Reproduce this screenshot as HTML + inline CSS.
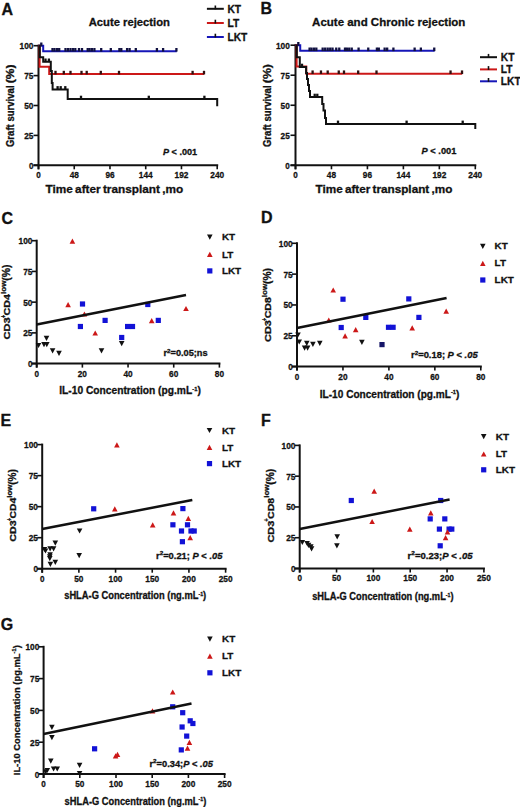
<!DOCTYPE html>
<html><head><meta charset="utf-8"><style>
html,body{margin:0;padding:0;background:#fff;}
svg{display:block;}
text{font-family:"Liberation Sans", sans-serif;fill:#111;stroke:#111;stroke-width:0.3px;}
</style></head><body>
<svg width="520" height="807" viewBox="0 0 520 807">
<rect width="520" height="807" fill="#fff"/>
<text x="1.60" y="15.20" font-size="16" font-weight="bold" >A</text>
<text x="260.60" y="14.40" font-size="16" font-weight="bold" >B</text>
<text x="1.40" y="223.60" font-size="16" font-weight="bold" >C</text>
<text x="260.90" y="222.80" font-size="16" font-weight="bold" >D</text>
<text x="0.50" y="425.50" font-size="16" font-weight="bold" >E</text>
<text x="260.90" y="426.30" font-size="16" font-weight="bold" >F</text>
<text x="0.80" y="629.80" font-size="16" font-weight="bold" >G</text>
<text x="88.70" y="25.80" font-size="11.5" font-weight="bold" textLength="81.30" lengthAdjust="spacingAndGlyphs" >Acute rejection</text>
<line x1="38.50" y1="44.70" x2="38.50" y2="169.30" stroke="#111" stroke-width="2.0" stroke-linecap="butt"/>
<line x1="33.50" y1="165.30" x2="218.20" y2="165.30" stroke="#111" stroke-width="2.0" stroke-linecap="butt"/>
<line x1="33.50" y1="165.30" x2="38.50" y2="165.30" stroke="#111" stroke-width="1.6" stroke-linecap="butt"/>
<text x="33.40" y="168.83" font-size="9.8" font-weight="bold" text-anchor="end" textLength="4.50" lengthAdjust="spacingAndGlyphs" >0</text>
<line x1="33.50" y1="135.40" x2="38.50" y2="135.40" stroke="#111" stroke-width="1.6" stroke-linecap="butt"/>
<text x="33.40" y="138.93" font-size="9.8" font-weight="bold" text-anchor="end" textLength="9.20" lengthAdjust="spacingAndGlyphs" >25</text>
<line x1="33.50" y1="105.50" x2="38.50" y2="105.50" stroke="#111" stroke-width="1.6" stroke-linecap="butt"/>
<text x="33.40" y="109.03" font-size="9.8" font-weight="bold" text-anchor="end" textLength="9.20" lengthAdjust="spacingAndGlyphs" >50</text>
<line x1="33.50" y1="75.60" x2="38.50" y2="75.60" stroke="#111" stroke-width="1.6" stroke-linecap="butt"/>
<text x="33.40" y="79.13" font-size="9.8" font-weight="bold" text-anchor="end" textLength="9.20" lengthAdjust="spacingAndGlyphs" >75</text>
<line x1="33.50" y1="45.70" x2="38.50" y2="45.70" stroke="#111" stroke-width="1.6" stroke-linecap="butt"/>
<text x="33.40" y="49.23" font-size="9.8" font-weight="bold" text-anchor="end" textLength="13.90" lengthAdjust="spacingAndGlyphs" >100</text>
<line x1="38.50" y1="165.30" x2="38.50" y2="169.30" stroke="#111" stroke-width="1.6" stroke-linecap="butt"/>
<text x="38.50" y="178.20" font-size="9.8" font-weight="bold" text-anchor="middle" textLength="4.50" lengthAdjust="spacingAndGlyphs" >0</text>
<line x1="74.24" y1="165.30" x2="74.24" y2="169.30" stroke="#111" stroke-width="1.6" stroke-linecap="butt"/>
<text x="74.24" y="178.20" font-size="9.8" font-weight="bold" text-anchor="middle" textLength="9.20" lengthAdjust="spacingAndGlyphs" >48</text>
<line x1="109.98" y1="165.30" x2="109.98" y2="169.30" stroke="#111" stroke-width="1.6" stroke-linecap="butt"/>
<text x="109.98" y="178.20" font-size="9.8" font-weight="bold" text-anchor="middle" textLength="9.20" lengthAdjust="spacingAndGlyphs" >96</text>
<line x1="145.72" y1="165.30" x2="145.72" y2="169.30" stroke="#111" stroke-width="1.6" stroke-linecap="butt"/>
<text x="145.72" y="178.20" font-size="9.8" font-weight="bold" text-anchor="middle" textLength="13.90" lengthAdjust="spacingAndGlyphs" >144</text>
<line x1="181.46" y1="165.30" x2="181.46" y2="169.30" stroke="#111" stroke-width="1.6" stroke-linecap="butt"/>
<text x="181.46" y="178.20" font-size="9.8" font-weight="bold" text-anchor="middle" textLength="13.90" lengthAdjust="spacingAndGlyphs" >192</text>
<line x1="217.20" y1="165.30" x2="217.20" y2="169.30" stroke="#111" stroke-width="1.6" stroke-linecap="butt"/>
<text x="217.20" y="178.20" font-size="9.8" font-weight="bold" text-anchor="middle" textLength="13.90" lengthAdjust="spacingAndGlyphs" >240</text>
<text x="14.40" y="147.10" font-size="10.6" font-weight="bold" transform="rotate(-90 14.40 147.10)" textLength="61.70" lengthAdjust="spacingAndGlyphs" >Graft survival</text>
<text x="14.40" y="83.20" font-size="10.6" font-weight="bold" transform="rotate(-90 14.40 83.20)" textLength="18.70" lengthAdjust="spacingAndGlyphs" >(%)</text>
<text x="45.60" y="192.80" font-size="11.2" font-weight="bold" textLength="137.50" lengthAdjust="spacingAndGlyphs" word-spacing="-1">Time after transplant ,mo</text>
<text x="163.00" y="155.10" font-size="9.4" font-weight="bold" textLength="34.20" lengthAdjust="spacingAndGlyphs"><tspan font-style="italic">P</tspan> &lt; .001</text>
<path d="M38.50,45.80 H43.20 V51.30 H176.80" fill="none" stroke="#1616b8" stroke-width="2" stroke-linejoin="miter" stroke-linecap="butt"/>
<path d="M38.50,45.80 H39.60 V66.80 H49.20 V74.10 H204.20" fill="none" stroke="#cc1818" stroke-width="2" stroke-linejoin="miter" stroke-linecap="butt"/>
<path d="M38.5,45.8 H39.8 V57.2 H43.2 V61.8 H50.8 V71 H51.8 V83 H52.6 V89.4 H67.7 V99 H217.2 V106.2" fill="none" stroke="#111" stroke-width="2" stroke-linejoin="miter" stroke-linecap="butt"/>
<line x1="52.50" y1="48.00" x2="52.50" y2="51.60" stroke="#101040" stroke-width="2.3" stroke-linecap="butt"/>
<line x1="54.50" y1="48.00" x2="54.50" y2="51.60" stroke="#101040" stroke-width="2.3" stroke-linecap="butt"/>
<line x1="57.00" y1="48.00" x2="57.00" y2="51.60" stroke="#101040" stroke-width="2.3" stroke-linecap="butt"/>
<line x1="59.20" y1="48.00" x2="59.20" y2="51.60" stroke="#101040" stroke-width="2.3" stroke-linecap="butt"/>
<line x1="65.50" y1="48.00" x2="65.50" y2="51.60" stroke="#101040" stroke-width="2.3" stroke-linecap="butt"/>
<line x1="68.00" y1="48.00" x2="68.00" y2="51.60" stroke="#101040" stroke-width="2.3" stroke-linecap="butt"/>
<line x1="70.50" y1="48.00" x2="70.50" y2="51.60" stroke="#101040" stroke-width="2.3" stroke-linecap="butt"/>
<line x1="73.00" y1="48.00" x2="73.00" y2="51.60" stroke="#101040" stroke-width="2.3" stroke-linecap="butt"/>
<line x1="75.30" y1="48.00" x2="75.30" y2="51.60" stroke="#101040" stroke-width="2.3" stroke-linecap="butt"/>
<line x1="79.00" y1="48.00" x2="79.00" y2="51.60" stroke="#101040" stroke-width="2.3" stroke-linecap="butt"/>
<line x1="82.00" y1="48.00" x2="82.00" y2="51.60" stroke="#101040" stroke-width="2.3" stroke-linecap="butt"/>
<line x1="87.70" y1="48.00" x2="87.70" y2="51.60" stroke="#101040" stroke-width="2.3" stroke-linecap="butt"/>
<line x1="89.60" y1="48.00" x2="89.60" y2="51.60" stroke="#101040" stroke-width="2.3" stroke-linecap="butt"/>
<line x1="91.90" y1="48.00" x2="91.90" y2="51.60" stroke="#101040" stroke-width="2.3" stroke-linecap="butt"/>
<line x1="94.40" y1="48.00" x2="94.40" y2="51.60" stroke="#101040" stroke-width="2.3" stroke-linecap="butt"/>
<line x1="101.20" y1="48.00" x2="101.20" y2="51.60" stroke="#101040" stroke-width="2.3" stroke-linecap="butt"/>
<line x1="110.80" y1="48.00" x2="110.80" y2="51.60" stroke="#101040" stroke-width="2.3" stroke-linecap="butt"/>
<line x1="119.40" y1="48.00" x2="119.40" y2="51.60" stroke="#101040" stroke-width="2.3" stroke-linecap="butt"/>
<line x1="121.30" y1="48.00" x2="121.30" y2="51.60" stroke="#101040" stroke-width="2.3" stroke-linecap="butt"/>
<line x1="127.10" y1="48.00" x2="127.10" y2="51.60" stroke="#101040" stroke-width="2.3" stroke-linecap="butt"/>
<line x1="129.60" y1="48.00" x2="129.60" y2="51.60" stroke="#101040" stroke-width="2.3" stroke-linecap="butt"/>
<line x1="135.80" y1="48.00" x2="135.80" y2="51.60" stroke="#101040" stroke-width="2.3" stroke-linecap="butt"/>
<line x1="156.90" y1="48.00" x2="156.90" y2="51.60" stroke="#101040" stroke-width="2.3" stroke-linecap="butt"/>
<line x1="163.10" y1="48.00" x2="163.10" y2="51.60" stroke="#101040" stroke-width="2.3" stroke-linecap="butt"/>
<line x1="176.40" y1="48.00" x2="176.40" y2="51.60" stroke="#101040" stroke-width="2.3" stroke-linecap="butt"/>
<line x1="41.30" y1="42.50" x2="41.30" y2="46.10" stroke="#101040" stroke-width="2.3" stroke-linecap="butt"/>
<line x1="55.50" y1="70.80" x2="55.50" y2="74.40" stroke="#301010" stroke-width="2.3" stroke-linecap="butt"/>
<line x1="63.80" y1="70.80" x2="63.80" y2="74.40" stroke="#301010" stroke-width="2.3" stroke-linecap="butt"/>
<line x1="70.50" y1="70.80" x2="70.50" y2="74.40" stroke="#301010" stroke-width="2.3" stroke-linecap="butt"/>
<line x1="81.50" y1="70.80" x2="81.50" y2="74.40" stroke="#301010" stroke-width="2.3" stroke-linecap="butt"/>
<line x1="86.70" y1="70.80" x2="86.70" y2="74.40" stroke="#301010" stroke-width="2.3" stroke-linecap="butt"/>
<line x1="100.80" y1="70.80" x2="100.80" y2="74.40" stroke="#301010" stroke-width="2.3" stroke-linecap="butt"/>
<line x1="119.00" y1="70.80" x2="119.00" y2="74.40" stroke="#301010" stroke-width="2.3" stroke-linecap="butt"/>
<line x1="192.60" y1="70.80" x2="192.60" y2="74.40" stroke="#301010" stroke-width="2.3" stroke-linecap="butt"/>
<line x1="204.00" y1="70.80" x2="204.00" y2="74.40" stroke="#301010" stroke-width="2.3" stroke-linecap="butt"/>
<line x1="45.50" y1="58.50" x2="45.50" y2="62.10" stroke="#111" stroke-width="2.3" stroke-linecap="butt"/>
<line x1="48.90" y1="58.50" x2="48.90" y2="62.10" stroke="#111" stroke-width="2.3" stroke-linecap="butt"/>
<line x1="57.60" y1="86.10" x2="57.60" y2="89.70" stroke="#111" stroke-width="2.3" stroke-linecap="butt"/>
<line x1="60.70" y1="86.10" x2="60.70" y2="89.70" stroke="#111" stroke-width="2.3" stroke-linecap="butt"/>
<line x1="65.30" y1="86.10" x2="65.30" y2="89.70" stroke="#111" stroke-width="2.3" stroke-linecap="butt"/>
<line x1="81.00" y1="95.70" x2="81.00" y2="99.30" stroke="#111" stroke-width="2.3" stroke-linecap="butt"/>
<line x1="148.80" y1="95.70" x2="148.80" y2="99.30" stroke="#111" stroke-width="2.3" stroke-linecap="butt"/>
<line x1="204.40" y1="95.70" x2="204.40" y2="99.30" stroke="#111" stroke-width="2.3" stroke-linecap="butt"/>
<line x1="206.90" y1="8.80" x2="223.80" y2="8.80" stroke="#111" stroke-width="2" stroke-linecap="butt"/>
<line x1="215.35" y1="5.50" x2="215.35" y2="9.30" stroke="#111" stroke-width="1.6" stroke-linecap="butt"/>
<text x="227.50" y="13.10" font-size="10.2" font-weight="bold" >KT</text>
<line x1="206.90" y1="23.00" x2="223.80" y2="23.00" stroke="#cc1818" stroke-width="2" stroke-linecap="butt"/>
<line x1="215.35" y1="19.70" x2="215.35" y2="23.50" stroke="#111" stroke-width="1.6" stroke-linecap="butt"/>
<text x="227.50" y="27.30" font-size="10.2" font-weight="bold" >LT</text>
<line x1="206.90" y1="37.00" x2="223.80" y2="37.00" stroke="#1616b8" stroke-width="2" stroke-linecap="butt"/>
<line x1="215.35" y1="33.70" x2="215.35" y2="37.50" stroke="#111" stroke-width="1.6" stroke-linecap="butt"/>
<text x="227.50" y="41.30" font-size="10.2" font-weight="bold" >LKT</text>
<text x="312.10" y="25.80" font-size="11.5" font-weight="bold" textLength="153.30" lengthAdjust="spacingAndGlyphs" >Acute and Chronic rejection</text>
<line x1="295.50" y1="44.20" x2="295.50" y2="169.30" stroke="#111" stroke-width="2.0" stroke-linecap="butt"/>
<line x1="290.50" y1="165.30" x2="476.30" y2="165.30" stroke="#111" stroke-width="2.0" stroke-linecap="butt"/>
<line x1="290.50" y1="165.30" x2="295.50" y2="165.30" stroke="#111" stroke-width="1.6" stroke-linecap="butt"/>
<text x="289.80" y="168.83" font-size="9.8" font-weight="bold" text-anchor="end" textLength="4.50" lengthAdjust="spacingAndGlyphs" >0</text>
<line x1="290.50" y1="135.27" x2="295.50" y2="135.27" stroke="#111" stroke-width="1.6" stroke-linecap="butt"/>
<text x="289.80" y="138.80" font-size="9.8" font-weight="bold" text-anchor="end" textLength="9.20" lengthAdjust="spacingAndGlyphs" >25</text>
<line x1="290.50" y1="105.25" x2="295.50" y2="105.25" stroke="#111" stroke-width="1.6" stroke-linecap="butt"/>
<text x="289.80" y="108.78" font-size="9.8" font-weight="bold" text-anchor="end" textLength="9.20" lengthAdjust="spacingAndGlyphs" >50</text>
<line x1="290.50" y1="75.22" x2="295.50" y2="75.22" stroke="#111" stroke-width="1.6" stroke-linecap="butt"/>
<text x="289.80" y="78.75" font-size="9.8" font-weight="bold" text-anchor="end" textLength="9.20" lengthAdjust="spacingAndGlyphs" >75</text>
<line x1="290.50" y1="45.20" x2="295.50" y2="45.20" stroke="#111" stroke-width="1.6" stroke-linecap="butt"/>
<text x="289.80" y="48.73" font-size="9.8" font-weight="bold" text-anchor="end" textLength="13.90" lengthAdjust="spacingAndGlyphs" >100</text>
<line x1="295.50" y1="165.30" x2="295.50" y2="169.30" stroke="#111" stroke-width="1.6" stroke-linecap="butt"/>
<text x="295.50" y="178.20" font-size="9.8" font-weight="bold" text-anchor="middle" textLength="4.50" lengthAdjust="spacingAndGlyphs" >0</text>
<line x1="331.46" y1="165.30" x2="331.46" y2="169.30" stroke="#111" stroke-width="1.6" stroke-linecap="butt"/>
<text x="331.46" y="178.20" font-size="9.8" font-weight="bold" text-anchor="middle" textLength="9.20" lengthAdjust="spacingAndGlyphs" >48</text>
<line x1="367.42" y1="165.30" x2="367.42" y2="169.30" stroke="#111" stroke-width="1.6" stroke-linecap="butt"/>
<text x="367.42" y="178.20" font-size="9.8" font-weight="bold" text-anchor="middle" textLength="9.20" lengthAdjust="spacingAndGlyphs" >96</text>
<line x1="403.38" y1="165.30" x2="403.38" y2="169.30" stroke="#111" stroke-width="1.6" stroke-linecap="butt"/>
<text x="403.38" y="178.20" font-size="9.8" font-weight="bold" text-anchor="middle" textLength="13.90" lengthAdjust="spacingAndGlyphs" >144</text>
<line x1="439.34" y1="165.30" x2="439.34" y2="169.30" stroke="#111" stroke-width="1.6" stroke-linecap="butt"/>
<text x="439.34" y="178.20" font-size="9.8" font-weight="bold" text-anchor="middle" textLength="13.90" lengthAdjust="spacingAndGlyphs" >192</text>
<line x1="475.30" y1="165.30" x2="475.30" y2="169.30" stroke="#111" stroke-width="1.6" stroke-linecap="butt"/>
<text x="475.30" y="178.20" font-size="9.8" font-weight="bold" text-anchor="middle" textLength="13.90" lengthAdjust="spacingAndGlyphs" >240</text>
<text x="270.90" y="147.10" font-size="10.6" font-weight="bold" transform="rotate(-90 270.90 147.10)" textLength="61.70" lengthAdjust="spacingAndGlyphs" >Graft survival</text>
<text x="270.90" y="83.20" font-size="10.6" font-weight="bold" transform="rotate(-90 270.90 83.20)" textLength="19.20" lengthAdjust="spacingAndGlyphs" >(%)</text>
<text x="315.50" y="192.60" font-size="11.2" font-weight="bold" textLength="136.80" lengthAdjust="spacingAndGlyphs" word-spacing="-1">Time after transplant ,mo</text>
<text x="421.60" y="154.00" font-size="9.4" font-weight="bold" textLength="34.80" lengthAdjust="spacingAndGlyphs"><tspan font-style="italic">P</tspan> &lt; .001</text>
<path d="M295.50,45.30 H300.23 V50.82 H434.65" fill="none" stroke="#1616b8" stroke-width="2" stroke-linejoin="miter" stroke-linecap="butt"/>
<path d="M295.50,45.30 H296.61 V66.39 H306.27 V73.72 H462.22" fill="none" stroke="#cc1818" stroke-width="2" stroke-linejoin="miter" stroke-linecap="butt"/>
<path d="M295.5,45.4 H296.8 V57.2 H299.8 V67 H306.1 V73 H307 V79 H308 V85 H309 V91 H310 V97 H322.2 V104 H323.5 V110.5 H325 V118 H326 V123.9 H475.3 V129" fill="none" stroke="#111" stroke-width="2" stroke-linejoin="miter" stroke-linecap="butt"/>
<line x1="309.59" y1="47.52" x2="309.59" y2="51.12" stroke="#101040" stroke-width="2.3" stroke-linecap="butt"/>
<line x1="311.60" y1="47.52" x2="311.60" y2="51.12" stroke="#101040" stroke-width="2.3" stroke-linecap="butt"/>
<line x1="314.11" y1="47.52" x2="314.11" y2="51.12" stroke="#101040" stroke-width="2.3" stroke-linecap="butt"/>
<line x1="316.33" y1="47.52" x2="316.33" y2="51.12" stroke="#101040" stroke-width="2.3" stroke-linecap="butt"/>
<line x1="322.67" y1="47.52" x2="322.67" y2="51.12" stroke="#101040" stroke-width="2.3" stroke-linecap="butt"/>
<line x1="325.18" y1="47.52" x2="325.18" y2="51.12" stroke="#101040" stroke-width="2.3" stroke-linecap="butt"/>
<line x1="327.70" y1="47.52" x2="327.70" y2="51.12" stroke="#101040" stroke-width="2.3" stroke-linecap="butt"/>
<line x1="330.21" y1="47.52" x2="330.21" y2="51.12" stroke="#101040" stroke-width="2.3" stroke-linecap="butt"/>
<line x1="332.53" y1="47.52" x2="332.53" y2="51.12" stroke="#101040" stroke-width="2.3" stroke-linecap="butt"/>
<line x1="336.25" y1="47.52" x2="336.25" y2="51.12" stroke="#101040" stroke-width="2.3" stroke-linecap="butt"/>
<line x1="339.27" y1="47.52" x2="339.27" y2="51.12" stroke="#101040" stroke-width="2.3" stroke-linecap="butt"/>
<line x1="345.00" y1="47.52" x2="345.00" y2="51.12" stroke="#101040" stroke-width="2.3" stroke-linecap="butt"/>
<line x1="346.91" y1="47.52" x2="346.91" y2="51.12" stroke="#101040" stroke-width="2.3" stroke-linecap="butt"/>
<line x1="349.23" y1="47.52" x2="349.23" y2="51.12" stroke="#101040" stroke-width="2.3" stroke-linecap="butt"/>
<line x1="351.74" y1="47.52" x2="351.74" y2="51.12" stroke="#101040" stroke-width="2.3" stroke-linecap="butt"/>
<line x1="358.59" y1="47.52" x2="358.59" y2="51.12" stroke="#101040" stroke-width="2.3" stroke-linecap="butt"/>
<line x1="368.25" y1="47.52" x2="368.25" y2="51.12" stroke="#101040" stroke-width="2.3" stroke-linecap="butt"/>
<line x1="376.90" y1="47.52" x2="376.90" y2="51.12" stroke="#101040" stroke-width="2.3" stroke-linecap="butt"/>
<line x1="378.81" y1="47.52" x2="378.81" y2="51.12" stroke="#101040" stroke-width="2.3" stroke-linecap="butt"/>
<line x1="384.65" y1="47.52" x2="384.65" y2="51.12" stroke="#101040" stroke-width="2.3" stroke-linecap="butt"/>
<line x1="387.16" y1="47.52" x2="387.16" y2="51.12" stroke="#101040" stroke-width="2.3" stroke-linecap="butt"/>
<line x1="393.40" y1="47.52" x2="393.40" y2="51.12" stroke="#101040" stroke-width="2.3" stroke-linecap="butt"/>
<line x1="414.63" y1="47.52" x2="414.63" y2="51.12" stroke="#101040" stroke-width="2.3" stroke-linecap="butt"/>
<line x1="420.87" y1="47.52" x2="420.87" y2="51.12" stroke="#101040" stroke-width="2.3" stroke-linecap="butt"/>
<line x1="434.25" y1="47.52" x2="434.25" y2="51.12" stroke="#101040" stroke-width="2.3" stroke-linecap="butt"/>
<line x1="298.32" y1="42.00" x2="298.32" y2="45.60" stroke="#101040" stroke-width="2.3" stroke-linecap="butt"/>
<line x1="312.60" y1="70.42" x2="312.60" y2="74.02" stroke="#301010" stroke-width="2.3" stroke-linecap="butt"/>
<line x1="320.96" y1="70.42" x2="320.96" y2="74.02" stroke="#301010" stroke-width="2.3" stroke-linecap="butt"/>
<line x1="327.70" y1="70.42" x2="327.70" y2="74.02" stroke="#301010" stroke-width="2.3" stroke-linecap="butt"/>
<line x1="338.76" y1="70.42" x2="338.76" y2="74.02" stroke="#301010" stroke-width="2.3" stroke-linecap="butt"/>
<line x1="344.00" y1="70.42" x2="344.00" y2="74.02" stroke="#301010" stroke-width="2.3" stroke-linecap="butt"/>
<line x1="358.18" y1="70.42" x2="358.18" y2="74.02" stroke="#301010" stroke-width="2.3" stroke-linecap="butt"/>
<line x1="376.50" y1="70.42" x2="376.50" y2="74.02" stroke="#301010" stroke-width="2.3" stroke-linecap="butt"/>
<line x1="450.55" y1="70.42" x2="450.55" y2="74.02" stroke="#301010" stroke-width="2.3" stroke-linecap="butt"/>
<line x1="462.02" y1="70.42" x2="462.02" y2="74.02" stroke="#301010" stroke-width="2.3" stroke-linecap="butt"/>
<line x1="302.00" y1="63.70" x2="302.00" y2="67.30" stroke="#111" stroke-width="2.3" stroke-linecap="butt"/>
<line x1="314.70" y1="93.70" x2="314.70" y2="97.30" stroke="#111" stroke-width="2.3" stroke-linecap="butt"/>
<line x1="317.30" y1="93.70" x2="317.30" y2="97.30" stroke="#111" stroke-width="2.3" stroke-linecap="butt"/>
<line x1="338.00" y1="120.60" x2="338.00" y2="124.20" stroke="#111" stroke-width="2.3" stroke-linecap="butt"/>
<line x1="406.60" y1="120.60" x2="406.60" y2="124.20" stroke="#111" stroke-width="2.3" stroke-linecap="butt"/>
<line x1="462.70" y1="120.60" x2="462.70" y2="124.20" stroke="#111" stroke-width="2.3" stroke-linecap="butt"/>
<line x1="480.00" y1="57.20" x2="497.00" y2="57.20" stroke="#111" stroke-width="2" stroke-linecap="butt"/>
<line x1="488.50" y1="53.90" x2="488.50" y2="57.70" stroke="#111" stroke-width="1.6" stroke-linecap="butt"/>
<text x="500.80" y="61.00" font-size="10.2" font-weight="bold" >KT</text>
<line x1="480.00" y1="69.40" x2="497.00" y2="69.40" stroke="#cc1818" stroke-width="2" stroke-linecap="butt"/>
<line x1="488.50" y1="66.10" x2="488.50" y2="69.90" stroke="#111" stroke-width="1.6" stroke-linecap="butt"/>
<text x="500.80" y="73.20" font-size="10.2" font-weight="bold" >LT</text>
<line x1="480.00" y1="81.30" x2="497.00" y2="81.30" stroke="#1616b8" stroke-width="2" stroke-linecap="butt"/>
<line x1="488.50" y1="78.00" x2="488.50" y2="81.80" stroke="#111" stroke-width="1.6" stroke-linecap="butt"/>
<text x="500.80" y="85.10" font-size="10.2" font-weight="bold" >LKT</text>
<line x1="36.70" y1="239.70" x2="36.70" y2="367.60" stroke="#111" stroke-width="2.0" stroke-linecap="butt"/>
<line x1="31.70" y1="363.60" x2="220.40" y2="363.60" stroke="#111" stroke-width="2.0" stroke-linecap="butt"/>
<line x1="31.70" y1="363.60" x2="36.70" y2="363.60" stroke="#111" stroke-width="1.6" stroke-linecap="butt"/>
<text x="32.40" y="367.13" font-size="9.8" font-weight="bold" text-anchor="end" textLength="4.50" lengthAdjust="spacingAndGlyphs" >0</text>
<line x1="31.70" y1="332.88" x2="36.70" y2="332.88" stroke="#111" stroke-width="1.6" stroke-linecap="butt"/>
<text x="32.40" y="336.40" font-size="9.8" font-weight="bold" text-anchor="end" textLength="9.20" lengthAdjust="spacingAndGlyphs" >25</text>
<line x1="31.70" y1="302.15" x2="36.70" y2="302.15" stroke="#111" stroke-width="1.6" stroke-linecap="butt"/>
<text x="32.40" y="305.68" font-size="9.8" font-weight="bold" text-anchor="end" textLength="9.20" lengthAdjust="spacingAndGlyphs" >50</text>
<line x1="31.70" y1="271.43" x2="36.70" y2="271.43" stroke="#111" stroke-width="1.6" stroke-linecap="butt"/>
<text x="32.40" y="274.95" font-size="9.8" font-weight="bold" text-anchor="end" textLength="9.20" lengthAdjust="spacingAndGlyphs" >75</text>
<line x1="31.70" y1="240.70" x2="36.70" y2="240.70" stroke="#111" stroke-width="1.6" stroke-linecap="butt"/>
<text x="32.40" y="244.23" font-size="9.8" font-weight="bold" text-anchor="end" textLength="13.90" lengthAdjust="spacingAndGlyphs" >100</text>
<line x1="36.70" y1="363.60" x2="36.70" y2="367.60" stroke="#111" stroke-width="1.6" stroke-linecap="butt"/>
<text x="36.70" y="376.50" font-size="9.8" font-weight="bold" text-anchor="middle" textLength="4.50" lengthAdjust="spacingAndGlyphs" >0</text>
<line x1="82.38" y1="363.60" x2="82.38" y2="367.60" stroke="#111" stroke-width="1.6" stroke-linecap="butt"/>
<text x="82.38" y="376.50" font-size="9.8" font-weight="bold" text-anchor="middle" textLength="9.20" lengthAdjust="spacingAndGlyphs" >20</text>
<line x1="128.05" y1="363.60" x2="128.05" y2="367.60" stroke="#111" stroke-width="1.6" stroke-linecap="butt"/>
<text x="128.05" y="376.50" font-size="9.8" font-weight="bold" text-anchor="middle" textLength="9.20" lengthAdjust="spacingAndGlyphs" >40</text>
<line x1="173.72" y1="363.60" x2="173.72" y2="367.60" stroke="#111" stroke-width="1.6" stroke-linecap="butt"/>
<text x="173.72" y="376.50" font-size="9.8" font-weight="bold" text-anchor="middle" textLength="9.20" lengthAdjust="spacingAndGlyphs" >60</text>
<line x1="219.40" y1="363.60" x2="219.40" y2="367.60" stroke="#111" stroke-width="1.6" stroke-linecap="butt"/>
<text x="219.40" y="376.50" font-size="9.8" font-weight="bold" text-anchor="middle" textLength="9.20" lengthAdjust="spacingAndGlyphs" >80</text>
<rect x="79.90" y="301.40" width="5.20" height="5.20" fill="#1212d6"/>
<rect x="77.80" y="323.90" width="5.20" height="5.20" fill="#1212d6"/>
<rect x="102.50" y="317.80" width="5.20" height="5.20" fill="#1212d6"/>
<rect x="119.10" y="334.90" width="5.20" height="5.20" fill="#1212d6"/>
<rect x="125.00" y="323.90" width="5.20" height="5.20" fill="#1212d6"/>
<rect x="129.90" y="323.90" width="5.20" height="5.20" fill="#1212d6"/>
<rect x="145.20" y="301.90" width="5.20" height="5.20" fill="#1212d6"/>
<rect x="155.70" y="317.80" width="5.20" height="5.20" fill="#1212d6"/>
<path d="M69.60,243.80 H75.20 L72.40,238.60 Z" fill="#cc1818"/>
<path d="M65.30,307.20 H70.90 L68.10,302.00 Z" fill="#cc1818"/>
<path d="M81.60,316.60 H87.20 L84.40,311.40 Z" fill="#cc1818"/>
<path d="M92.40,335.60 H98.00 L95.20,330.40 Z" fill="#cc1818"/>
<path d="M148.90,323.20 H154.50 L151.70,318.00 Z" fill="#cc1818"/>
<path d="M183.20,311.10 H188.80 L186.00,305.90 Z" fill="#cc1818"/>
<path d="M35.70,342.90 H41.30 L38.50,348.10 Z" fill="#111"/>
<path d="M41.20,342.00 H46.80 L44.00,347.20 Z" fill="#111"/>
<path d="M44.00,342.00 H49.60 L46.80,347.20 Z" fill="#111"/>
<path d="M43.70,335.70 H49.30 L46.50,340.90 Z" fill="#111"/>
<path d="M49.80,348.20 H55.40 L52.60,353.40 Z" fill="#111"/>
<path d="M56.20,350.70 H61.80 L59.00,355.90 Z" fill="#111"/>
<path d="M98.70,348.30 H104.30 L101.50,353.50 Z" fill="#111"/>
<path d="M118.90,341.00 H124.50 L121.70,346.20 Z" fill="#111"/>
<line x1="36.70" y1="324.60" x2="186.00" y2="295.00" stroke="#111" stroke-width="2.5" stroke-linecap="butt"/>
<path d="M207.00,234.50 H212.60 L209.80,239.70 Z" fill="#111"/>
<path d="M207.00,256.90 H212.60 L209.80,251.70 Z" fill="#cc1818"/>
<rect x="207.20" y="268.30" width="5.20" height="5.20" fill="#1212d6"/>
<text x="221.90" y="240.30" font-size="9.9" font-weight="bold" >KT</text>
<text x="221.90" y="257.50" font-size="9.9" font-weight="bold" >LT</text>
<text x="221.90" y="274.10" font-size="9.9" font-weight="bold" >LKT</text>
<text x="10.30" y="339.50" font-size="9.4" font-weight="bold" transform="rotate(-90 10.30 339.50)" textLength="22.23" lengthAdjust="spacingAndGlyphs" >CD3</text>
<text x="6.10" y="318.07" font-size="6.5" font-weight="bold" transform="rotate(-90 6.10 318.07)" textLength="3.20" lengthAdjust="spacingAndGlyphs" >+</text>
<text x="10.30" y="315.47" font-size="9.4" font-weight="bold" transform="rotate(-90 10.30 315.47)" textLength="21.43" lengthAdjust="spacingAndGlyphs" >CD4</text>
<text x="5.70" y="294.04" font-size="7.6" font-weight="bold" transform="rotate(-90 5.70 294.04)" textLength="13.62" lengthAdjust="spacingAndGlyphs" >low</text>
<text x="10.40" y="280.62" font-size="10.0" font-weight="bold" transform="rotate(-90 10.40 280.62)" textLength="16.22" lengthAdjust="spacingAndGlyphs" >(%)</text>
<text x="59.20" y="394.30" font-size="10.6" font-weight="bold" textLength="141.60" lengthAdjust="spacingAndGlyphs">IL-10 Concentration (pg.mL<tspan font-size="6" dy="-3.5">-1</tspan><tspan dy="3.5">)</tspan></text>
<text x="163.50" y="355.80" font-size="8.9" font-weight="bold" textLength="44.10" lengthAdjust="spacingAndGlyphs">r<tspan font-size="6" dy="-3.2">2</tspan><tspan dy="3.2">=0.05;ns</tspan></text>
<line x1="297.00" y1="242.30" x2="297.00" y2="370.60" stroke="#111" stroke-width="2.0" stroke-linecap="butt"/>
<line x1="292.00" y1="366.60" x2="481.80" y2="366.60" stroke="#111" stroke-width="2.0" stroke-linecap="butt"/>
<line x1="292.00" y1="366.60" x2="297.00" y2="366.60" stroke="#111" stroke-width="1.6" stroke-linecap="butt"/>
<text x="292.70" y="370.13" font-size="9.8" font-weight="bold" text-anchor="end" textLength="4.50" lengthAdjust="spacingAndGlyphs" >0</text>
<line x1="292.00" y1="335.78" x2="297.00" y2="335.78" stroke="#111" stroke-width="1.6" stroke-linecap="butt"/>
<text x="292.70" y="339.30" font-size="9.8" font-weight="bold" text-anchor="end" textLength="9.20" lengthAdjust="spacingAndGlyphs" >25</text>
<line x1="292.00" y1="304.95" x2="297.00" y2="304.95" stroke="#111" stroke-width="1.6" stroke-linecap="butt"/>
<text x="292.70" y="308.48" font-size="9.8" font-weight="bold" text-anchor="end" textLength="9.20" lengthAdjust="spacingAndGlyphs" >50</text>
<line x1="292.00" y1="274.12" x2="297.00" y2="274.12" stroke="#111" stroke-width="1.6" stroke-linecap="butt"/>
<text x="292.70" y="277.65" font-size="9.8" font-weight="bold" text-anchor="end" textLength="9.20" lengthAdjust="spacingAndGlyphs" >75</text>
<line x1="292.00" y1="243.30" x2="297.00" y2="243.30" stroke="#111" stroke-width="1.6" stroke-linecap="butt"/>
<text x="292.70" y="246.83" font-size="9.8" font-weight="bold" text-anchor="end" textLength="13.90" lengthAdjust="spacingAndGlyphs" >100</text>
<line x1="297.00" y1="366.60" x2="297.00" y2="370.60" stroke="#111" stroke-width="1.6" stroke-linecap="butt"/>
<text x="297.00" y="379.50" font-size="9.8" font-weight="bold" text-anchor="middle" textLength="4.50" lengthAdjust="spacingAndGlyphs" >0</text>
<line x1="342.95" y1="366.60" x2="342.95" y2="370.60" stroke="#111" stroke-width="1.6" stroke-linecap="butt"/>
<text x="342.95" y="379.50" font-size="9.8" font-weight="bold" text-anchor="middle" textLength="9.20" lengthAdjust="spacingAndGlyphs" >20</text>
<line x1="388.90" y1="366.60" x2="388.90" y2="370.60" stroke="#111" stroke-width="1.6" stroke-linecap="butt"/>
<text x="388.90" y="379.50" font-size="9.8" font-weight="bold" text-anchor="middle" textLength="9.20" lengthAdjust="spacingAndGlyphs" >40</text>
<line x1="434.85" y1="366.60" x2="434.85" y2="370.60" stroke="#111" stroke-width="1.6" stroke-linecap="butt"/>
<text x="434.85" y="379.50" font-size="9.8" font-weight="bold" text-anchor="middle" textLength="9.20" lengthAdjust="spacingAndGlyphs" >60</text>
<line x1="480.80" y1="366.60" x2="480.80" y2="370.60" stroke="#111" stroke-width="1.6" stroke-linecap="butt"/>
<text x="480.80" y="379.50" font-size="9.8" font-weight="bold" text-anchor="middle" textLength="9.20" lengthAdjust="spacingAndGlyphs" >80</text>
<rect x="340.40" y="296.60" width="5.20" height="5.20" fill="#1212d6"/>
<rect x="338.60" y="324.90" width="5.20" height="5.20" fill="#1212d6"/>
<rect x="363.20" y="314.80" width="5.20" height="5.20" fill="#1212d6"/>
<rect x="385.90" y="324.70" width="5.20" height="5.20" fill="#1212d6"/>
<rect x="390.50" y="324.70" width="5.20" height="5.20" fill="#1212d6"/>
<rect x="406.20" y="296.30" width="5.20" height="5.20" fill="#1212d6"/>
<rect x="416.30" y="314.80" width="5.20" height="5.20" fill="#1212d6"/>
<path d="M330.40,292.60 H336.00 L333.20,287.40 Z" fill="#cc1818"/>
<path d="M326.00,322.60 H331.60 L328.80,317.40 Z" fill="#cc1818"/>
<path d="M342.30,338.40 H347.90 L345.10,333.20 Z" fill="#cc1818"/>
<path d="M352.90,332.20 H358.50 L355.70,327.00 Z" fill="#cc1818"/>
<path d="M409.40,330.40 H415.00 L412.20,325.20 Z" fill="#cc1818"/>
<path d="M443.40,313.80 H449.00 L446.20,308.60 Z" fill="#cc1818"/>
<path d="M295.20,332.40 H300.80 L298.00,337.60 Z" fill="#111"/>
<path d="M296.40,339.40 H302.00 L299.20,344.60 Z" fill="#111"/>
<path d="M301.80,345.60 H307.40 L304.60,350.80 Z" fill="#111"/>
<path d="M304.80,345.60 H310.40 L307.60,350.80 Z" fill="#111"/>
<path d="M304.00,340.80 H309.60 L306.80,346.00 Z" fill="#111"/>
<path d="M310.10,341.70 H315.70 L312.90,346.90 Z" fill="#111"/>
<path d="M317.00,340.80 H322.60 L319.80,346.00 Z" fill="#111"/>
<path d="M359.10,339.70 H364.70 L361.90,344.90 Z" fill="#111"/>
<line x1="297.00" y1="327.90" x2="446.60" y2="298.00" stroke="#111" stroke-width="2.5" stroke-linecap="butt"/>
<path d="M480.00,243.80 H485.60 L482.80,249.00 Z" fill="#111"/>
<path d="M480.00,265.90 H485.60 L482.80,260.70 Z" fill="#cc1818"/>
<rect x="480.20" y="277.40" width="5.20" height="5.20" fill="#1212d6"/>
<text x="494.60" y="249.10" font-size="9.9" font-weight="bold" >KT</text>
<text x="494.60" y="266.00" font-size="9.9" font-weight="bold" >LT</text>
<text x="494.60" y="282.70" font-size="9.9" font-weight="bold" >LKT</text>
<text x="271.20" y="342.00" font-size="9.4" font-weight="bold" transform="rotate(-90 271.20 342.00)" textLength="21.90" lengthAdjust="spacingAndGlyphs" >CD3</text>
<text x="267.00" y="320.88" font-size="6.5" font-weight="bold" transform="rotate(-90 267.00 320.88)" textLength="3.16" lengthAdjust="spacingAndGlyphs" >+</text>
<text x="271.20" y="318.32" font-size="9.4" font-weight="bold" transform="rotate(-90 271.20 318.32)" textLength="21.11" lengthAdjust="spacingAndGlyphs" >CD8</text>
<text x="266.60" y="297.21" font-size="7.6" font-weight="bold" transform="rotate(-90 266.60 297.21)" textLength="13.42" lengthAdjust="spacingAndGlyphs" >low</text>
<text x="271.30" y="283.99" font-size="10.0" font-weight="bold" transform="rotate(-90 271.30 283.99)" textLength="15.98" lengthAdjust="spacingAndGlyphs" >(%)</text>
<text x="319.80" y="397.60" font-size="10.6" font-weight="bold" textLength="139.60" lengthAdjust="spacingAndGlyphs">IL-10 Concentration (pg.mL<tspan font-size="6" dy="-3.5">-1</tspan><tspan dy="3.5">)</tspan></text>
<text x="411.00" y="358.20" font-size="8.9" font-weight="bold" textLength="66.60" lengthAdjust="spacingAndGlyphs">r<tspan font-size="6" dy="-3.2">2</tspan><tspan dy="3.2">=0.18; </tspan><tspan font-style="italic">P</tspan> &lt; <tspan font-style="italic">.05</tspan></text>
<rect x="379.40" y="342.00" width="5.20" height="5.20" fill="#161668"/>
<line x1="42.20" y1="443.60" x2="42.20" y2="572.70" stroke="#111" stroke-width="2.0" stroke-linecap="butt"/>
<line x1="37.20" y1="568.70" x2="226.60" y2="568.70" stroke="#111" stroke-width="2.0" stroke-linecap="butt"/>
<line x1="37.20" y1="568.70" x2="42.20" y2="568.70" stroke="#111" stroke-width="1.6" stroke-linecap="butt"/>
<text x="37.90" y="572.23" font-size="9.8" font-weight="bold" text-anchor="end" textLength="4.50" lengthAdjust="spacingAndGlyphs" >0</text>
<line x1="37.20" y1="537.68" x2="42.20" y2="537.68" stroke="#111" stroke-width="1.6" stroke-linecap="butt"/>
<text x="37.90" y="541.20" font-size="9.8" font-weight="bold" text-anchor="end" textLength="9.20" lengthAdjust="spacingAndGlyphs" >25</text>
<line x1="37.20" y1="506.65" x2="42.20" y2="506.65" stroke="#111" stroke-width="1.6" stroke-linecap="butt"/>
<text x="37.90" y="510.18" font-size="9.8" font-weight="bold" text-anchor="end" textLength="9.20" lengthAdjust="spacingAndGlyphs" >50</text>
<line x1="37.20" y1="475.62" x2="42.20" y2="475.62" stroke="#111" stroke-width="1.6" stroke-linecap="butt"/>
<text x="37.90" y="479.15" font-size="9.8" font-weight="bold" text-anchor="end" textLength="9.20" lengthAdjust="spacingAndGlyphs" >75</text>
<line x1="37.20" y1="444.60" x2="42.20" y2="444.60" stroke="#111" stroke-width="1.6" stroke-linecap="butt"/>
<text x="37.90" y="448.13" font-size="9.8" font-weight="bold" text-anchor="end" textLength="13.90" lengthAdjust="spacingAndGlyphs" >100</text>
<line x1="42.20" y1="568.70" x2="42.20" y2="572.70" stroke="#111" stroke-width="1.6" stroke-linecap="butt"/>
<text x="42.20" y="581.60" font-size="9.8" font-weight="bold" text-anchor="middle" textLength="4.50" lengthAdjust="spacingAndGlyphs" >0</text>
<line x1="78.88" y1="568.70" x2="78.88" y2="572.70" stroke="#111" stroke-width="1.6" stroke-linecap="butt"/>
<text x="78.88" y="581.60" font-size="9.8" font-weight="bold" text-anchor="middle" textLength="9.20" lengthAdjust="spacingAndGlyphs" >50</text>
<line x1="115.56" y1="568.70" x2="115.56" y2="572.70" stroke="#111" stroke-width="1.6" stroke-linecap="butt"/>
<text x="115.56" y="581.60" font-size="9.8" font-weight="bold" text-anchor="middle" textLength="13.90" lengthAdjust="spacingAndGlyphs" >100</text>
<line x1="152.24" y1="568.70" x2="152.24" y2="572.70" stroke="#111" stroke-width="1.6" stroke-linecap="butt"/>
<text x="152.24" y="581.60" font-size="9.8" font-weight="bold" text-anchor="middle" textLength="13.90" lengthAdjust="spacingAndGlyphs" >150</text>
<line x1="188.92" y1="568.70" x2="188.92" y2="572.70" stroke="#111" stroke-width="1.6" stroke-linecap="butt"/>
<text x="188.92" y="581.60" font-size="9.8" font-weight="bold" text-anchor="middle" textLength="13.90" lengthAdjust="spacingAndGlyphs" >200</text>
<line x1="225.60" y1="568.70" x2="225.60" y2="572.70" stroke="#111" stroke-width="1.6" stroke-linecap="butt"/>
<text x="225.60" y="581.60" font-size="9.8" font-weight="bold" text-anchor="middle" textLength="13.90" lengthAdjust="spacingAndGlyphs" >250</text>
<rect x="91.10" y="506.20" width="5.20" height="5.20" fill="#1212d6"/>
<rect x="180.30" y="506.00" width="5.20" height="5.20" fill="#1212d6"/>
<rect x="170.30" y="522.20" width="5.20" height="5.20" fill="#1212d6"/>
<rect x="184.90" y="522.20" width="5.20" height="5.20" fill="#1212d6"/>
<rect x="178.90" y="528.40" width="5.20" height="5.20" fill="#1212d6"/>
<rect x="188.40" y="528.40" width="5.20" height="5.20" fill="#1212d6"/>
<rect x="191.60" y="528.40" width="5.20" height="5.20" fill="#1212d6"/>
<rect x="179.80" y="539.10" width="5.20" height="5.20" fill="#1212d6"/>
<path d="M114.10,447.40 H119.70 L116.90,442.20 Z" fill="#cc1818"/>
<path d="M112.00,511.50 H117.60 L114.80,506.30 Z" fill="#cc1818"/>
<path d="M149.90,527.40 H155.50 L152.70,522.20 Z" fill="#cc1818"/>
<path d="M170.70,515.50 H176.30 L173.50,510.30 Z" fill="#cc1818"/>
<path d="M185.50,520.90 H191.10 L188.30,515.70 Z" fill="#cc1818"/>
<path d="M187.40,540.30 H193.00 L190.20,535.10 Z" fill="#cc1818"/>
<path d="M41.70,546.90 H47.30 L44.50,552.10 Z" fill="#111"/>
<path d="M42.70,548.40 H48.30 L45.50,553.60 Z" fill="#111"/>
<path d="M47.30,546.20 H52.90 L50.10,551.40 Z" fill="#111"/>
<path d="M50.80,546.20 H56.40 L53.60,551.40 Z" fill="#111"/>
<path d="M52.50,540.50 H58.10 L55.30,545.70 Z" fill="#111"/>
<path d="M47.30,552.30 H52.90 L50.10,557.50 Z" fill="#111"/>
<path d="M47.00,554.30 H52.60 L49.80,559.50 Z" fill="#111"/>
<path d="M47.00,556.10 H52.60 L49.80,561.30 Z" fill="#111"/>
<path d="M52.50,559.80 H58.10 L55.30,565.00 Z" fill="#111"/>
<path d="M47.60,561.80 H53.20 L50.40,567.00 Z" fill="#111"/>
<path d="M76.80,528.40 H82.40 L79.60,533.60 Z" fill="#111"/>
<path d="M76.40,553.00 H82.00 L79.20,558.20 Z" fill="#111"/>
<line x1="42.20" y1="529.00" x2="192.30" y2="500.00" stroke="#111" stroke-width="2.5" stroke-linecap="butt"/>
<path d="M206.70,427.90 H212.30 L209.50,433.10 Z" fill="#111"/>
<path d="M206.70,450.00 H212.30 L209.50,444.80 Z" fill="#cc1818"/>
<rect x="206.90" y="461.00" width="5.20" height="5.20" fill="#1212d6"/>
<text x="221.90" y="433.60" font-size="9.9" font-weight="bold" >KT</text>
<text x="221.90" y="450.50" font-size="9.9" font-weight="bold" >LT</text>
<text x="221.90" y="466.70" font-size="9.9" font-weight="bold" >LKT</text>
<text x="16.40" y="541.69" font-size="9.4" font-weight="bold" transform="rotate(-90 16.40 541.69)" textLength="21.46" lengthAdjust="spacingAndGlyphs" >CD3</text>
<text x="12.20" y="521.01" font-size="6.5" font-weight="bold" transform="rotate(-90 12.20 521.01)" textLength="3.09" lengthAdjust="spacingAndGlyphs" >+</text>
<text x="16.40" y="518.50" font-size="9.4" font-weight="bold" transform="rotate(-90 16.40 518.50)" textLength="20.68" lengthAdjust="spacingAndGlyphs" >CD4</text>
<text x="11.80" y="497.81" font-size="7.6" font-weight="bold" transform="rotate(-90 11.80 497.81)" textLength="13.14" lengthAdjust="spacingAndGlyphs" >low</text>
<text x="16.50" y="484.86" font-size="10.0" font-weight="bold" transform="rotate(-90 16.50 484.86)" textLength="15.66" lengthAdjust="spacingAndGlyphs" >(%)</text>
<text x="64.20" y="599.00" font-size="10.6" font-weight="bold" textLength="142.00" lengthAdjust="spacingAndGlyphs">sHLA-G Concentration (ng.mL<tspan font-size="6" dy="-3.5">-1</tspan><tspan dy="3.5">)</tspan></text>
<text x="156.00" y="558.50" font-size="8.9" font-weight="bold" textLength="66.40" lengthAdjust="spacingAndGlyphs">r<tspan font-size="6" dy="-3.2">2</tspan><tspan dy="3.2">=0.21; </tspan><tspan font-style="italic">P</tspan> &lt; <tspan font-style="italic">.05</tspan></text>
<line x1="299.70" y1="444.40" x2="299.70" y2="572.50" stroke="#111" stroke-width="2.0" stroke-linecap="butt"/>
<line x1="294.70" y1="568.50" x2="484.90" y2="568.50" stroke="#111" stroke-width="2.0" stroke-linecap="butt"/>
<line x1="294.70" y1="568.50" x2="299.70" y2="568.50" stroke="#111" stroke-width="1.6" stroke-linecap="butt"/>
<text x="295.40" y="572.03" font-size="9.8" font-weight="bold" text-anchor="end" textLength="4.50" lengthAdjust="spacingAndGlyphs" >0</text>
<line x1="294.70" y1="537.73" x2="299.70" y2="537.73" stroke="#111" stroke-width="1.6" stroke-linecap="butt"/>
<text x="295.40" y="541.25" font-size="9.8" font-weight="bold" text-anchor="end" textLength="9.20" lengthAdjust="spacingAndGlyphs" >25</text>
<line x1="294.70" y1="506.95" x2="299.70" y2="506.95" stroke="#111" stroke-width="1.6" stroke-linecap="butt"/>
<text x="295.40" y="510.48" font-size="9.8" font-weight="bold" text-anchor="end" textLength="9.20" lengthAdjust="spacingAndGlyphs" >50</text>
<line x1="294.70" y1="476.17" x2="299.70" y2="476.17" stroke="#111" stroke-width="1.6" stroke-linecap="butt"/>
<text x="295.40" y="479.70" font-size="9.8" font-weight="bold" text-anchor="end" textLength="9.20" lengthAdjust="spacingAndGlyphs" >75</text>
<line x1="294.70" y1="445.40" x2="299.70" y2="445.40" stroke="#111" stroke-width="1.6" stroke-linecap="butt"/>
<text x="295.40" y="448.93" font-size="9.8" font-weight="bold" text-anchor="end" textLength="13.90" lengthAdjust="spacingAndGlyphs" >100</text>
<line x1="299.70" y1="568.50" x2="299.70" y2="572.50" stroke="#111" stroke-width="1.6" stroke-linecap="butt"/>
<text x="299.70" y="581.40" font-size="9.8" font-weight="bold" text-anchor="middle" textLength="4.50" lengthAdjust="spacingAndGlyphs" >0</text>
<line x1="336.54" y1="568.50" x2="336.54" y2="572.50" stroke="#111" stroke-width="1.6" stroke-linecap="butt"/>
<text x="336.54" y="581.40" font-size="9.8" font-weight="bold" text-anchor="middle" textLength="9.20" lengthAdjust="spacingAndGlyphs" >50</text>
<line x1="373.38" y1="568.50" x2="373.38" y2="572.50" stroke="#111" stroke-width="1.6" stroke-linecap="butt"/>
<text x="373.38" y="581.40" font-size="9.8" font-weight="bold" text-anchor="middle" textLength="13.90" lengthAdjust="spacingAndGlyphs" >100</text>
<line x1="410.22" y1="568.50" x2="410.22" y2="572.50" stroke="#111" stroke-width="1.6" stroke-linecap="butt"/>
<text x="410.22" y="581.40" font-size="9.8" font-weight="bold" text-anchor="middle" textLength="13.90" lengthAdjust="spacingAndGlyphs" >150</text>
<line x1="447.06" y1="568.50" x2="447.06" y2="572.50" stroke="#111" stroke-width="1.6" stroke-linecap="butt"/>
<text x="447.06" y="581.40" font-size="9.8" font-weight="bold" text-anchor="middle" textLength="13.90" lengthAdjust="spacingAndGlyphs" >200</text>
<line x1="483.90" y1="568.50" x2="483.90" y2="572.50" stroke="#111" stroke-width="1.6" stroke-linecap="butt"/>
<text x="483.90" y="581.40" font-size="9.8" font-weight="bold" text-anchor="middle" textLength="13.90" lengthAdjust="spacingAndGlyphs" >250</text>
<rect x="348.70" y="497.90" width="5.20" height="5.20" fill="#1212d6"/>
<rect x="438.10" y="497.90" width="5.20" height="5.20" fill="#1212d6"/>
<rect x="427.60" y="516.30" width="5.20" height="5.20" fill="#1212d6"/>
<rect x="442.20" y="516.30" width="5.20" height="5.20" fill="#1212d6"/>
<rect x="436.80" y="526.50" width="5.20" height="5.20" fill="#1212d6"/>
<rect x="446.50" y="526.50" width="5.20" height="5.20" fill="#1212d6"/>
<rect x="449.20" y="526.50" width="5.20" height="5.20" fill="#1212d6"/>
<rect x="437.60" y="543.20" width="5.20" height="5.20" fill="#1212d6"/>
<path d="M371.40,493.70 H377.00 L374.20,488.50 Z" fill="#cc1818"/>
<path d="M369.30,524.10 H374.90 L372.10,518.90 Z" fill="#cc1818"/>
<path d="M407.00,531.70 H412.60 L409.80,526.50 Z" fill="#cc1818"/>
<path d="M428.00,515.50 H433.60 L430.80,510.30 Z" fill="#cc1818"/>
<path d="M444.70,534.40 H450.30 L447.50,529.20 Z" fill="#cc1818"/>
<path d="M442.80,540.30 H448.40 L445.60,535.10 Z" fill="#cc1818"/>
<path d="M299.50,539.90 H305.10 L302.30,545.10 Z" fill="#111"/>
<path d="M304.30,540.90 H309.90 L307.10,546.10 Z" fill="#111"/>
<path d="M305.70,542.80 H311.30 L308.50,548.00 Z" fill="#111"/>
<path d="M308.80,546.30 H314.40 L311.60,551.50 Z" fill="#111"/>
<path d="M308.00,544.20 H313.60 L310.80,549.40 Z" fill="#111"/>
<path d="M334.40,534.30 H340.00 L337.20,539.50 Z" fill="#111"/>
<path d="M334.10,543.30 H339.70 L336.90,548.50 Z" fill="#111"/>
<line x1="299.70" y1="529.00" x2="449.60" y2="499.50" stroke="#111" stroke-width="2.5" stroke-linecap="butt"/>
<path d="M480.90,434.10 H486.50 L483.70,439.30 Z" fill="#111"/>
<path d="M480.90,456.60 H486.50 L483.70,451.40 Z" fill="#cc1818"/>
<rect x="481.10" y="467.20" width="5.20" height="5.20" fill="#1212d6"/>
<text x="495.80" y="439.80" font-size="9.9" font-weight="bold" >KT</text>
<text x="495.80" y="457.10" font-size="9.9" font-weight="bold" >LT</text>
<text x="495.80" y="472.90" font-size="9.9" font-weight="bold" >LKT</text>
<text x="273.60" y="542.50" font-size="9.4" font-weight="bold" transform="rotate(-90 273.60 542.50)" textLength="21.84" lengthAdjust="spacingAndGlyphs" >CD3</text>
<text x="269.40" y="521.44" font-size="6.5" font-weight="bold" transform="rotate(-90 269.40 521.44)" textLength="3.15" lengthAdjust="spacingAndGlyphs" >+</text>
<text x="273.60" y="518.88" font-size="9.4" font-weight="bold" transform="rotate(-90 273.60 518.88)" textLength="21.06" lengthAdjust="spacingAndGlyphs" >CD8</text>
<text x="269.00" y="497.83" font-size="7.6" font-weight="bold" transform="rotate(-90 269.00 497.83)" textLength="13.38" lengthAdjust="spacingAndGlyphs" >low</text>
<text x="273.70" y="484.64" font-size="10.0" font-weight="bold" transform="rotate(-90 273.70 484.64)" textLength="15.94" lengthAdjust="spacingAndGlyphs" >(%)</text>
<text x="312.20" y="600.20" font-size="10.6" font-weight="bold" textLength="141.40" lengthAdjust="spacingAndGlyphs">sHLA-G Concentration (ng.mL<tspan font-size="6" dy="-3.5">-1</tspan><tspan dy="3.5">)</tspan></text>
<text x="407.60" y="558.50" font-size="8.9" font-weight="bold" textLength="65.00" lengthAdjust="spacingAndGlyphs">r<tspan font-size="6" dy="-3.2">2</tspan><tspan dy="3.2">=0.23;</tspan><tspan font-style="italic">P</tspan> &lt; <tspan font-style="italic">.05</tspan></text>
<line x1="43.60" y1="645.80" x2="43.60" y2="778.00" stroke="#111" stroke-width="2.0" stroke-linecap="butt"/>
<line x1="38.60" y1="774.00" x2="225.60" y2="774.00" stroke="#111" stroke-width="2.0" stroke-linecap="butt"/>
<line x1="38.60" y1="774.00" x2="43.60" y2="774.00" stroke="#111" stroke-width="1.6" stroke-linecap="butt"/>
<text x="39.30" y="777.53" font-size="9.8" font-weight="bold" text-anchor="end" textLength="4.50" lengthAdjust="spacingAndGlyphs" >0</text>
<line x1="38.60" y1="742.20" x2="43.60" y2="742.20" stroke="#111" stroke-width="1.6" stroke-linecap="butt"/>
<text x="39.30" y="745.73" font-size="9.8" font-weight="bold" text-anchor="end" textLength="9.20" lengthAdjust="spacingAndGlyphs" >25</text>
<line x1="38.60" y1="710.40" x2="43.60" y2="710.40" stroke="#111" stroke-width="1.6" stroke-linecap="butt"/>
<text x="39.30" y="713.93" font-size="9.8" font-weight="bold" text-anchor="end" textLength="9.20" lengthAdjust="spacingAndGlyphs" >50</text>
<line x1="38.60" y1="678.60" x2="43.60" y2="678.60" stroke="#111" stroke-width="1.6" stroke-linecap="butt"/>
<text x="39.30" y="682.13" font-size="9.8" font-weight="bold" text-anchor="end" textLength="9.20" lengthAdjust="spacingAndGlyphs" >75</text>
<line x1="38.60" y1="646.80" x2="43.60" y2="646.80" stroke="#111" stroke-width="1.6" stroke-linecap="butt"/>
<text x="39.30" y="650.33" font-size="9.8" font-weight="bold" text-anchor="end" textLength="13.90" lengthAdjust="spacingAndGlyphs" >100</text>
<line x1="43.60" y1="774.00" x2="43.60" y2="778.00" stroke="#111" stroke-width="1.6" stroke-linecap="butt"/>
<text x="43.60" y="786.90" font-size="9.8" font-weight="bold" text-anchor="middle" textLength="4.50" lengthAdjust="spacingAndGlyphs" >0</text>
<line x1="79.80" y1="774.00" x2="79.80" y2="778.00" stroke="#111" stroke-width="1.6" stroke-linecap="butt"/>
<text x="79.80" y="786.90" font-size="9.8" font-weight="bold" text-anchor="middle" textLength="9.20" lengthAdjust="spacingAndGlyphs" >50</text>
<line x1="116.00" y1="774.00" x2="116.00" y2="778.00" stroke="#111" stroke-width="1.6" stroke-linecap="butt"/>
<text x="116.00" y="786.90" font-size="9.8" font-weight="bold" text-anchor="middle" textLength="13.90" lengthAdjust="spacingAndGlyphs" >100</text>
<line x1="152.20" y1="774.00" x2="152.20" y2="778.00" stroke="#111" stroke-width="1.6" stroke-linecap="butt"/>
<text x="152.20" y="786.90" font-size="9.8" font-weight="bold" text-anchor="middle" textLength="13.90" lengthAdjust="spacingAndGlyphs" >150</text>
<line x1="188.40" y1="774.00" x2="188.40" y2="778.00" stroke="#111" stroke-width="1.6" stroke-linecap="butt"/>
<text x="188.40" y="786.90" font-size="9.8" font-weight="bold" text-anchor="middle" textLength="13.90" lengthAdjust="spacingAndGlyphs" >200</text>
<line x1="224.60" y1="774.00" x2="224.60" y2="778.00" stroke="#111" stroke-width="1.6" stroke-linecap="butt"/>
<text x="224.60" y="786.90" font-size="9.8" font-weight="bold" text-anchor="middle" textLength="13.90" lengthAdjust="spacingAndGlyphs" >250</text>
<rect x="92.00" y="746.20" width="5.20" height="5.20" fill="#1212d6"/>
<rect x="170.10" y="704.20" width="5.20" height="5.20" fill="#1212d6"/>
<rect x="180.10" y="710.10" width="5.20" height="5.20" fill="#1212d6"/>
<rect x="187.60" y="718.20" width="5.20" height="5.20" fill="#1212d6"/>
<rect x="190.30" y="720.90" width="5.20" height="5.20" fill="#1212d6"/>
<rect x="179.50" y="724.40" width="5.20" height="5.20" fill="#1212d6"/>
<rect x="184.10" y="733.50" width="5.20" height="5.20" fill="#1212d6"/>
<rect x="178.70" y="747.30" width="5.20" height="5.20" fill="#1212d6"/>
<path d="M169.90,694.60 H175.50 L172.70,689.40 Z" fill="#cc1818"/>
<path d="M149.70,713.40 H155.30 L152.50,708.20 Z" fill="#cc1818"/>
<path d="M186.60,744.90 H192.20 L189.40,739.70 Z" fill="#cc1818"/>
<path d="M184.70,750.80 H190.30 L187.50,745.60 Z" fill="#cc1818"/>
<path d="M112.80,758.40 H118.40 L115.60,753.20 Z" fill="#cc1818"/>
<path d="M114.70,757.00 H120.30 L117.50,751.80 Z" fill="#cc1818"/>
<path d="M49.10,724.70 H54.70 L51.90,729.90 Z" fill="#111"/>
<path d="M49.10,735.10 H54.70 L51.90,740.30 Z" fill="#111"/>
<path d="M48.00,758.60 H53.60 L50.80,763.80 Z" fill="#111"/>
<path d="M50.80,766.40 H56.40 L53.60,771.60 Z" fill="#111"/>
<path d="M54.40,766.40 H60.00 L57.20,771.60 Z" fill="#111"/>
<path d="M44.50,767.90 H50.10 L47.30,773.10 Z" fill="#111"/>
<path d="M42.90,769.30 H48.50 L45.70,774.50 Z" fill="#111"/>
<path d="M76.80,762.80 H82.40 L79.60,768.00 Z" fill="#111"/>
<path d="M76.80,770.90 H82.40 L79.60,776.10 Z" fill="#111"/>
<line x1="43.60" y1="734.00" x2="191.50" y2="703.50" stroke="#111" stroke-width="2.5" stroke-linecap="butt"/>
<path d="M207.10,636.60 H212.70 L209.90,641.80 Z" fill="#111"/>
<path d="M207.10,658.70 H212.70 L209.90,653.50 Z" fill="#cc1818"/>
<rect x="207.30" y="670.20" width="5.20" height="5.20" fill="#1212d6"/>
<text x="222.00" y="642.20" font-size="9.9" font-weight="bold" >KT</text>
<text x="222.00" y="659.10" font-size="9.9" font-weight="bold" >LT</text>
<text x="222.00" y="675.80" font-size="9.9" font-weight="bold" >LKT</text>
<text x="19.80" y="775.20" font-size="9.8" font-weight="bold" transform="rotate(-90 19.80 775.20)" textLength="130.00" lengthAdjust="spacingAndGlyphs">IL-10 Concentration (pg.mL<tspan font-size="6" dy="-3.5">-1</tspan><tspan dy="3.5">)</tspan></text>
<text x="64.60" y="804.60" font-size="10.6" font-weight="bold" textLength="141.70" lengthAdjust="spacingAndGlyphs">sHLA-G Concentration (ng.mL<tspan font-size="6" dy="-3.5">-1</tspan><tspan dy="3.5">)</tspan></text>
<text x="149.50" y="766.50" font-size="8.9" font-weight="bold" textLength="63.40" lengthAdjust="spacingAndGlyphs">r<tspan font-size="6" dy="-3.2">2</tspan><tspan dy="3.2">=0.34;</tspan><tspan font-style="italic">P</tspan> &lt; <tspan font-style="italic">.05</tspan></text>
</svg></body></html>
